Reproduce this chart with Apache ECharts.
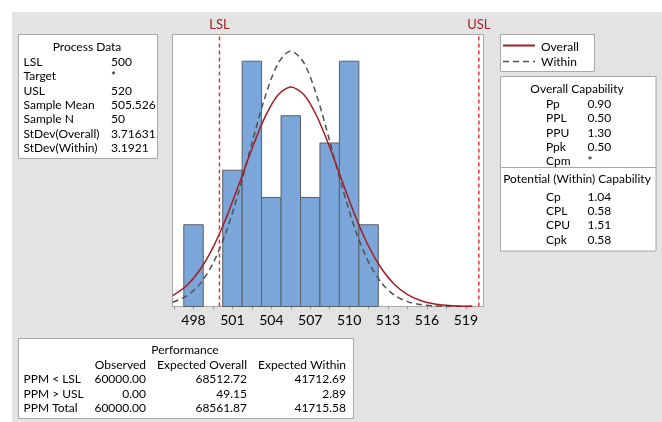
<!DOCTYPE html>
<html>
<head>
<meta charset="utf-8">
<script src="https://cdn.jsdelivr.net/npm/echarts@6/dist/echarts.min.js"></script>
<style>
  html, body { margin: 0; padding: 0; background: #fff; }
  #main { width: 662px; height: 422px; }
</style>
</head>
<body>
<div id="main"></div>
<script>
// histogram bins (centre, count)
const binCenters = [498, 499.5, 501, 502.5, 504, 505.5, 507, 508.5, 510, 511.5]
const binCounts = [3, 0, 5, 9, 4, 7, 4, 6, 9, 3]
const binWidth = 1.5

// fitted curves (in count units)
const curveX = [496.4, 497.5, 498.5, 499.5, 500.5, 501.5, 502.5, 503.5, 504.5, 505.5, 506.5, 507.5,
  508.5, 509.5, 510.5, 511.5, 512.5, 513.5, 514.5, 515.5, 516.5, 517.5, 518.5, 519.5]
const overallY = [0.395, 0.782, 1.348, 2.163, 3.226, 4.477, 5.779, 6.939, 7.750, 8.051, 7.779, 6.991,
  5.845, 4.546, 3.287, 2.212, 1.384, 0.806, 0.436, 0.220, 0.103, 0.045, 0.018, 0.007]
const withinY = [0.157, 0.397, 0.831, 1.578, 2.714, 4.231, 5.981, 7.664, 8.901, 9.373, 8.947, 7.742,
  6.073, 4.318, 2.784, 1.626, 0.862, 0.414, 0.180, 0.071, 0.025, 0.008, 0.002, 0.001]

const tickValues = [496.5, 498, 499.5, 501, 502.5, 504, 505.5, 507, 508.5, 510, 511.5, 513, 514.5, 516, 517.5, 519]
const tickLabels = [498, 501, 504, 507, 510, 513, 516, 519]
const lsl = 500
const usl = 520
const yMax = 9.98

const processRows = [
  ['LSL', '500'], ['Target', '*'], ['USL', '520'], ['Sample Mean', '505.526'],
  ['Sample N', '50'], ['StDev(Overall)', '3.71631'], ['StDev(Within)', '3.1921']
]
const overallCap = [['Pp', '0.90'], ['PPL', '0.50'], ['PPU', '1.30'], ['Ppk', '0.50'], ['Cpm', '*']]
const withinCap = [['Cp', '1.04'], ['CPL', '0.58'], ['CPU', '1.51'], ['Cpk', '0.58']]
const perfHeader = ['Observed', 'Expected Overall', 'Expected Within']
const perfRows = [
  ['PPM < LSL', '60000.00', '68512.72', '41712.69'],
  ['PPM > USL', '0.00', '49.15', '2.89'],
  ['PPM Total', '60000.00', '68561.87', '41715.58']
]

const FONT = '12px Lato'
const TXT = '#000'
const SPEC_RED = '#e0262c'

function txt (text, x, y, align) {
  return {
    type: 'text',
    z: 20,
    style: { text: text, x: x, y: y, font: FONT, fill: TXT, textAlign: align || 'left', textVerticalAlign: 'middle' }
  }
}
function box (x, y, w, h) {
  return {
    type: 'rect',
    z: 10,
    shape: { x: x, y: y, width: w, height: h },
    style: { fill: '#fff', stroke: '#a8a8a8', lineWidth: 1 }
  }
}

const g = []
// grey panel
g.push({ type: 'rect', z: 0, shape: { x: 12, y: 12, width: 650, height: 410 }, style: { fill: '#e3e3e3' } })

// process data
g.push(box(18.5, 34.5, 139, 124))
g.push(txt('Process Data', 87, 47, 'center'))
processRows.forEach((r, i) => {
  g.push(txt(r[0], 23.5, 62 + i * 14.33))
  g.push(txt(r[1], 111, 62 + i * 14.33))
})

// legend
g.push(box(500.5, 34.5, 94, 37))
g.push({ type: 'line', z: 20, shape: { x1: 503, y1: 45.5, x2: 535, y2: 45.5 }, style: { stroke: '#a51c24', lineWidth: 2 } })
g.push({ type: 'line', z: 20, shape: { x1: 503, y1: 61.5, x2: 535, y2: 61.5 }, style: { stroke: '#505050', lineWidth: 1.5, lineDash: [6, 4] } })
g.push(txt('Overall', 541, 47))
g.push(txt('Within', 541, 62))

// capability
g.push(box(500.5, 76.5, 155.5, 174.5))
g.push({ type: 'line', z: 20, shape: { x1: 500.5, y1: 167.5, x2: 656, y2: 167.5 }, style: { stroke: '#a8a8a8', lineWidth: 1 } })
g.push(txt('Overall Capability', 577, 89.5, 'center'))
overallCap.forEach((r, i) => {
  g.push(txt(r[0], 546, 104.3 + i * 14.25))
  g.push(txt(r[1], 587.5, 104.3 + i * 14.25))
})
g.push(txt('Potential (Within) Capability', 577, 179.5, 'center'))
withinCap.forEach((r, i) => {
  g.push(txt(r[0], 546, 196.7 + i * 14.33))
  g.push(txt(r[1], 587.5, 196.7 + i * 14.33))
})

// performance
g.push(box(18.5, 338.5, 335, 80))
g.push(txt('Performance', 185, 350, 'center'))
const perfRight = [146, 247, 346]
perfHeader.forEach((h, j) => g.push(txt(h, perfRight[j], 365, 'right')))
perfRows.forEach((r, i) => {
  g.push(txt(r[0], 23.5, 379.3 + i * 14.33))
  for (let j = 1; j < 4; j++) g.push(txt(r[j], perfRight[j - 1], 379.3 + i * 14.33, 'right'))
})

// vertical spec limit line with its label on top
function specSeries (name, x) {
  return {
    name: name,
    type: 'line',
    z: 6,
    symbol: 'none',
    silent: true,
    data: [[x, 0], [x, yMax]],
    lineStyle: { color: SPEC_RED, width: 1.4, type: [4, 3] },
    markPoint: {
      silent: true,
      symbol: 'rect',
      symbolSize: 0,
      label: { show: true, position: 'top', distance: 3, formatter: name, color: '#a3202a', fontSize: 13, fontFamily: 'Lato' },
      data: [{ coord: [x, yMax] }]
    }
  }
}

const myChart = echarts.init(document.getElementById('main'))
const option = {
  animation: false,
  graphic: g,
  grid: {
    left: 172.5,
    right: 178.5,
    top: 34.5,
    bottom: 115.5,
    show: true,
    backgroundColor: '#fff',
    borderColor: '#a8a8a8',
    borderWidth: 1,
    z: 1
  },
  xAxis: {
    type: 'value',
    min: 496.38,
    max: 520.36,
    axisLine: { show: true, lineStyle: { color: '#a8a8a8' } },
    axisTick: { show: true, customValues: tickValues, length: 3, lineStyle: { color: '#999' } },
    axisLabel: { customValues: tickLabels, fontSize: 14, color: '#000', fontFamily: 'Lato', margin: 7 },
    splitLine: { show: false }
  },
  yAxis: {
    type: 'value',
    min: 0,
    max: yMax,
    show: false,
    splitLine: { show: false }
  },
  series: [
    {
      type: 'custom',
      z: 3,
      data: binCenters.map((c, i) => [c, binCounts[i]]),
      renderItem: function (params, api) {
        const c = api.value(0)
        const n = api.value(1)
        if (!n) return null
        const p1 = api.coord([c - binWidth / 2, n])
        const p2 = api.coord([c + binWidth / 2, 0])
        return {
          type: 'rect',
          shape: { x: p1[0], y: p1[1], width: p2[0] - p1[0], height: p2[1] - p1[1] },
          style: { fill: '#7ba6d9', stroke: '#5a5f66', lineWidth: 1 }
        }
      }
    },
    {
      name: 'Within',
      type: 'line',
      z: 4,
      smooth: 0.3,
      showSymbol: false,
      data: curveX.map((x, i) => [x, withinY[i]]),
      lineStyle: { color: '#505050', width: 1.5, type: [6, 4] }
    },
    {
      name: 'Overall',
      type: 'line',
      z: 5,
      smooth: 0.3,
      showSymbol: false,
      data: curveX.map((x, i) => [x, overallY[i]]),
      lineStyle: { color: '#a51c24', width: 1.5 }
    },
    specSeries('LSL', lsl),
    specSeries('USL', usl)
  ]
}
myChart.setOption(option)
</script>
</body>
</html>
